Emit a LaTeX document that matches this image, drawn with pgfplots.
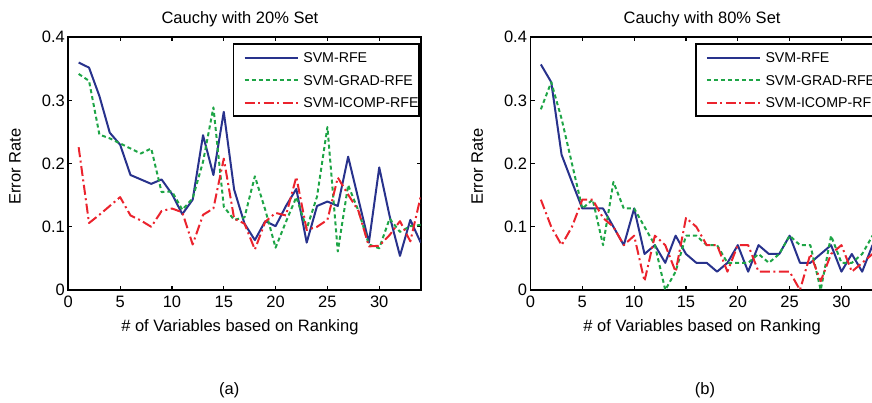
\documentclass[border=0pt]{standalone}
\usepackage{fontspec}
\setmainfont{Liberation Sans}
\usepackage{pgfplots}
\usepackage{pgfplotstable}
\pgfplotsset{compat=1.18}

\pgfplotstableread{
n b g r
1 0.360 0.342 0.226
2 0.352 0.331 0.106
3 0.307 0.246 0.119
4 0.249 0.240 0.133
5 0.230 0.232 0.147
6 0.182 0.224 0.118
7 0.175 0.216 0.110
8 0.168 0.224 0.100
9 0.175 0.155 0.125
10 0.152 0.156 0.129
11 0.120 0.127 0.123
12 0.143 0.145 0.072
13 0.245 0.203 0.119
14 0.182 0.289 0.129
15 0.282 0.132 0.208
16 0.159 0.111 0.113
17 0.105 0.115 0.105
18 0.079 0.180 0.064
19 0.109 0.127 0.108
20 0.101 0.067 0.122
21 0.133 0.108 0.118
22 0.160 0.147 0.179
23 0.075 0.097 0.095
24 0.133 0.148 0.100
25 0.140 0.258 0.111
26 0.133 0.061 0.178
27 0.211 0.166 0.151
28 0.143 0.125 0.125
29 0.075 0.072 0.069
30 0.194 0.066 0.070
31 0.117 0.113 0.087
32 0.054 0.092 0.109
33 0.111 0.101 0.077
34 0.075 0.103 0.148
}\leftdata

\pgfplotstableread{
n b g r
1 0.357 0.286 0.143
2 0.329 0.329 0.100
3 0.214 0.271 0.071
4 0.171 0.200 0.100
5 0.129 0.129 0.143
6 0.129 0.143 0.143
7 0.129 0.071 0.114
8 0.100 0.171 0.100
9 0.071 0.129 0.071
10 0.129 0.129 0.086
11 0.057 0.100 0.014
12 0.071 0.071 0.086
13 0.043 0.000 0.071
14 0.086 0.029 0.029
15 0.057 0.086 0.114
16 0.043 0.086 0.100
17 0.043 0.071 0.071
18 0.029 0.071 0.071
19 0.043 0.043 0.029
20 0.071 0.043 0.071
21 0.029 0.043 0.071
22 0.071 0.057 0.029
23 0.057 0.043 0.029
24 0.057 0.057 0.029
25 0.086 0.086 0.029
26 0.043 0.071 0.000
27 0.043 0.071 0.057
28 0.057 0.000 0.014
29 0.071 0.086 0.057
30 0.029 0.043 0.071
31 0.057 0.043 0.029
32 0.029 0.057 0.043
33 0.071 0.086 0.057
34 0.057 0.086 0.071
}\rightdata

\definecolor{cblue}{RGB}{40,50,140}
\definecolor{cgreen}{RGB}{30,165,70}
\definecolor{cred}{RGB}{235,35,45}

\newcommand\basefont{\fontsize{16.5pt}{19pt}\selectfont}
\newcommand\legfont{\fontsize{14.2pt}{17pt}\selectfont}

\pgfplotsset{
  chartstyle/.style={
    scale only axis, width=352.4pt, height=252.7pt,
    xmin=0, xmax=34, ymin=0, ymax=0.4,
    xtick={0,5,...,30}, ytick={0,0.1,0.2,0.3,0.4},
    tick align=inside, major tick length=4pt,
    /pgf/number format/assume math mode=true,
    axis line style={line width=1.8pt},
    every tick/.style={black, line width=1.2pt},
    tick label style={font=\basefont},
    xticklabel style={yshift=-2.7pt},
    every axis title/.style={at={(axis description cs:0.487,1.0554)}, anchor=base, font=\basefont},
    every axis x label/.style={at={(axis description cs:0.487,-0.166)}, anchor=base, font=\basefont},
    every axis y label/.style={at={(axis description cs:-0.151,0.488)}, rotate=90, anchor=center, font=\basefont},
    xlabel={\# of Variables based on Ranking},
    ylabel={Error Rate},
    legend cell align=left,
    legend image code/.code={\draw[##1, line width=2pt] (0pt,0pt) -- (53pt,0pt); \path (57.7pt,0pt);},
    legend style={at={(axis description cs:0.4665,0.9763)}, anchor=north west,
      draw=black, line width=1.8pt, fill=white,
      inner xsep=10pt, inner ysep=8.25pt, row sep=12.3pt, font=\legfont,
      nodes={inner sep=0pt, text height=10.2pt, text depth=0pt}},
  },
  sblue/.style={cblue, line width=2pt, line join=round},
  sgreen/.style={cgreen, line width=2pt, line join=round, dash pattern=on 4pt off 3pt},
  sred/.style={cred, line width=2pt, line join=round, dash pattern=on 10pt off 3.5pt on 2pt off 3.5pt},
}

\begin{document}
\begin{tikzpicture}[x=1pt,y=1pt]

\begin{axis}[chartstyle, at={(68.3pt,113pt)}, anchor=south west,
  title={Cauchy with 20\% Set}]
\addplot[sblue] table[x=n,y=b]{\leftdata};
\addplot[sgreen] table[x=n,y=g]{\leftdata};
\addplot[sred] table[x=n,y=r]{\leftdata};
\legend{\makebox[105.6pt][l]{SVM-RFE},\makebox[105.6pt][l]{SVM-GRAD-RFE},\makebox[105.6pt][l]{SVM-ICOMP-RFE}}
\end{axis}

\begin{axis}[chartstyle, at={(530.5pt,113pt)}, anchor=south west,
  title={Cauchy with 80\% Set}]
\addplot[sblue] table[x=n,y=b]{\rightdata};
\addplot[sgreen] table[x=n,y=g]{\rightdata};
\addplot[sred] table[x=n,y=r]{\rightdata};
\legend{\makebox[105.6pt][l]{SVM-RFE},\makebox[105.6pt][l]{SVM-GRAD-RFE},\makebox[105.6pt][l]{SVM-ICOMP-RFE}}
\end{axis}

\node[font=\basefont] at (229.3pt,12.3pt) {(a)};
\node[font=\basefont] at (705pt,13pt) {(b)};

\pgfresetboundingbox
\useasboundingbox (0pt,0pt) rectangle (872pt,403pt);
\end{tikzpicture}
\end{document}
